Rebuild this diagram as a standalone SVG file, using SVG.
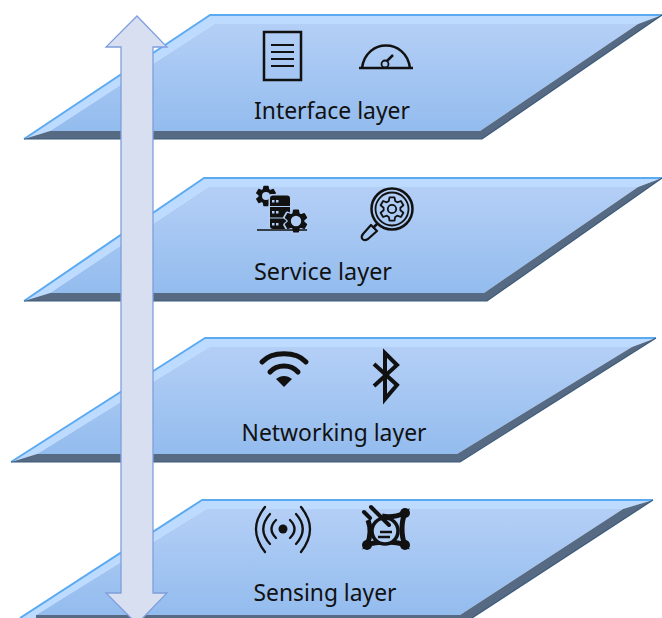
<svg xmlns="http://www.w3.org/2000/svg" width="662" height="618" viewBox="0 0 662 618">
<style>
.top{fill:url(#g)}
.hl{fill:#bddaff}
.side{fill:#566a84}
.edge{fill:none;stroke:#5aaaf2;stroke-width:2;stroke-linejoin:round}
.under{fill:none;stroke:#3c5a7a;stroke-width:1.2}
.lbl{font-family:"Noto Sans","Liberation Sans",sans-serif;font-size:23px;fill:#111;text-anchor:middle}
.k{fill:none;stroke:#111;stroke-width:2.500}
.t{fill:none;stroke:#111;stroke-width:1.800}
.b{fill:#111}
.bl{fill:#b0cdf3}
</style>
<defs>
<linearGradient id="g" x1="0" y1="0" x2="0" y2="1"><stop offset="0" stop-color="#b4cff6"/><stop offset="1" stop-color="#93bcee"/></linearGradient>
<path id="gear" d="M-3.200,-7.900 L-2.500,-11.700 L2.500,-11.700 L3.200,-7.900 L5.200,-6.700 L8.900,-8 L11.400,-3.700 L8.400,-1.200 L8.400,1.200 L11.400,3.700 L8.900,8 L5.200,6.700 L3.200,7.900 L2.500,11.700 L-2.500,11.700 L-3.200,7.900 L-5.200,6.700 L-8.900,8 L-11.400,3.700 L-8.400,1.200 L-8.400,-1.200 L-11.400,-3.700 L-8.900,-8 L-5.200,-6.700 Z" stroke-linejoin="round"/>
</defs>
<g id="layer-interface">
<polygon class="hl" points="24,139 210,15 662,15 638,24 214,24 50,131"/>
<polygon class="top" points="50,131 214,24 638,24 480,131"/>
<polygon class="side" points="24,139 50,131 480,131 638,24 662,15 482,139"/>
<path class="edge" d="M24,139 L210,15 H662"/><path class="under" d="M24,139 H482 L662,15"/>
<rect class="k" x="264" y="32" width="37" height="48"/>
<path class="t" d="M271,45 H294 M271,52 H294 M271,59 H294 M271,66 H294"/>
<path class="k" d="M359,68 H413 M362,68 C366,38 406,38 410,68"/>
<circle class="t" cx="385" cy="64" r="3.500"/><path class="k" d="M387,61 L393,55"/>
<text class="lbl" x="332" y="119" textLength="156" lengthAdjust="spacingAndGlyphs">Interface layer</text>
</g>
<g id="layer-service">
<polygon class="hl" points="24,301 204,178 662,178 638,187 208,187 50,293"/>
<polygon class="top" points="50,293 208,187 638,187 484,293"/>
<polygon class="side" points="24,301 50,293 484,293 638,187 662,178 487,301"/>
<path class="edge" d="M24,301 L204,178 H662"/><path class="under" d="M24,301 H487 L662,178"/>
<use href="#gear" transform="translate(266,196) scale(.82)" fill="#111" stroke="#111" stroke-width="1.500"/>
<circle cx="266" cy="196" r="4" fill="#b0cdf3"/>
<rect x="268.500" y="194" width="24" height="36" rx="3" fill="#b0cdf3"/>
<rect class="b" x="270" y="195.500" width="20" height="33.500" rx="3"/>
<path d="M270,206.500 H290 M270,218 H290" stroke="#b0cdf3" stroke-width="1.200"/>
<path class="bl" d="M272,200 h2.500 v2.500 h-2.500z M276,200 h2.500 v2.500 h-2.500z M272,211 h2.500 v2.500 h-2.500z M276,211 h2.500 v2.500 h-2.500z M272,223 h2.500 v2.500 h-2.500z M276,223 h2.500 v2.500 h-2.500z"/>
<use href="#gear" transform="translate(296,221)" fill="#b0cdf3" stroke="#b0cdf3" stroke-width="3"/>
<use href="#gear" transform="translate(296,221) scale(.92)" fill="#111" stroke="#111" stroke-width="1.500"/>
<circle cx="296" cy="221" r="5.200" fill="#b0cdf3"/>
<path d="M257,230 H307" stroke="#111" stroke-width="1.500"/>
<circle class="k" cx="392" cy="209" r="20.500"/><circle class="t" cx="392" cy="209" r="16.500"/>
<use href="#gear" transform="translate(392,209)" fill="none" stroke="#111" stroke-width="1.800"/>
<circle class="t" cx="392" cy="209" r="4.200"/>
<path class="k" d="M377,224 L373,228"/>
<path d="M369,227 L375,233 L366,241 C361,244 358,240 361,236 Z" transform="translate(2,-2)" fill="none" stroke="#111" stroke-width="2.200" stroke-linejoin="round"/>
<text class="lbl" x="323" y="280" textLength="138" lengthAdjust="spacingAndGlyphs">Service layer</text>
</g>
<g id="layer-networking">
<polygon class="hl" points="11,462 205,338 656,338 632,347 209,347 37,454"/>
<polygon class="top" points="37,454 209,347 632,347 457,454"/>
<polygon class="side" points="11,462 37,454 457,454 632,347 656,338 460,462"/>
<path class="edge" d="M11,462 L205,338 H656"/><path class="under" d="M11,462 H460 L656,338"/>
<path d="M262,362 C272,351 296,351 306,362 M270,372 C277,364 291,364 298,372" fill="none" stroke="#111" stroke-width="5" stroke-linecap="round"/>
<path class="b" d="M276,379 C281,375 287,375 292,379 L284,387 Z"/>
<path d="M374,364 L397,385 L385,399 V353 L397,365 L374,386" fill="none" stroke="#111" stroke-width="4"/>
<text class="lbl" x="334" y="441" textLength="185" lengthAdjust="spacingAndGlyphs">Networking layer</text>
</g>
<g id="layer-sensing">
<polygon class="hl" points="20,618 202,500 653,500 623,509 206,509 36,615 36,618"/>
<polygon class="top" points="36,615 206,509 623,509 460,615"/>
<polygon class="side" points="36,615 460,615 623,509 653,500 472,618 36,618"/>
<path class="edge" d="M20,618 L202,500 H653"/><path class="under" d="M472,618 L653,500"/>
<circle class="b" cx="283" cy="529" r="4.500"/>
<g fill="none" stroke="#111" stroke-width="2.300" stroke-linecap="round">
<path d="M276,520 C270,526 270,532 276,538 M290,520 C296,526 296,532 290,538"/>
<path d="M270,514 C261,524 261,534 270,544 M296,514 C305,524 305,534 296,544"/>
<path d="M265,507 C253,522 253,536 265,552 M301,507 C313,522 313,536 301,552"/>
</g>
<path d="M382,516 C390,518 398,516 405,513 C401,522 401,536 405,545 C395,541 377,541 367,545 C371,536 371,528 368,520" fill="none" stroke="#111" stroke-width="5"/>
<circle cx="385" cy="531" r="13" fill="#b0cdf3" stroke="#111" stroke-width="3.500"/>
<circle class="b" cx="367" cy="545" r="5"/><circle class="b" cx="405" cy="545" r="5"/><circle class="b" cx="405" cy="513" r="5"/>
<path d="M371,507 L389,525 M364,512 L370,518" stroke="#111" stroke-width="4" stroke-linecap="round"/>
<path d="M380,532 H392 M378,537 H390" stroke="#111" stroke-width="2.500"/>
<text class="lbl" x="325" y="601" textLength="143" lengthAdjust="spacingAndGlyphs">Sensing layer</text>
</g>
<g id="connectors">
<polygon points="137,16 167,47 153,47 153,593 167,593 137,624 106,593 121,593 121,47 106,47" fill="#d8dff0" stroke="#7f9fdc" stroke-width="1.300"/>
</g>
</svg>
